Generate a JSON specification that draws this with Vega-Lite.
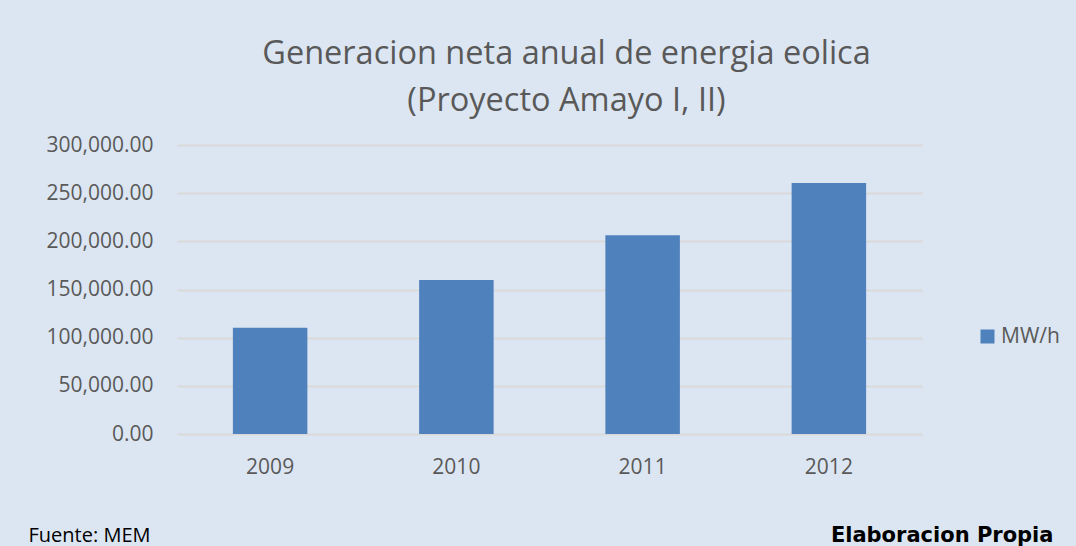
{
  "$schema": "https://vega.github.io/schema/vega-lite/v6.json",
  "autosize": {"type": "none"},
  "padding": {"left": 177, "top": 145, "right": 154, "bottom": 112},
  "width": 745,
  "height": 289,
  "background": "#dce6f2",
  "config": {
    "view": {"stroke": null},
    "font": "Open Sans"
  },
  "title": {
    "text": ["Generacion neta anual de energia eolica", "(Proyecto Amayo I, II)"],
    "font": "Open Sans",
    "fontSize": 32.5,
    "fontWeight": "normal",
    "color": "#595959",
    "lineHeight": 47,
    "anchor": "middle",
    "frame": "group",
    "dx": 17,
    "dy": 46,
    "baseline": "bottom",
    "offset": 30
  },
  "data": {
    "values": [
      {"year": "2009", "value": 110200, "serie": "MW/h"},
      {"year": "2010", "value": 159900, "serie": "MW/h"},
      {"year": "2011", "value": 206400, "serie": "MW/h"},
      {"year": "2012", "value": 260600, "serie": "MW/h"}
    ]
  },
  "mark": {"type": "bar", "color": "#4f81bd"},
  "encoding": {
    "x": {
      "field": "year",
      "type": "ordinal",
      "scale": {"paddingInner": 0.6, "paddingOuter": 0.3},
      "axis": {
        "title": "Fuente: MEM",
        "titleFont": "Open Sans",
        "titleFontSize": 20,
        "titleFontWeight": "normal",
        "titleColor": "#000000",
        "titleX": -149,
        "titleY": 107,
        "titleAlign": "left",
        "titleBaseline": "alphabetic",
        "titleAnchor": null,
        "labelAngle": 0,
        "labelFont": "Open Sans",
        "labelFontSize": 21,
        "labelColor": "#595959",
        "labelPadding": 22,
        "ticks": false,
        "domain": false,
        "grid": false
      }
    },
    "y": {
      "field": "value",
      "type": "quantitative",
      "scale": {"domain": [0, 300000], "nice": false},
      "axis": {
        "title": "Elaboracion Propia",
        "titleFont": "DejaVu Sans",
        "titleFontSize": 21,
        "titleFontWeight": "bold",
        "titleColor": "#000000",
        "titleAngle": 0,
        "titleX": 876,
        "titleY": 396,
        "titleAlign": "right",
        "titleBaseline": "alphabetic",
        "titleAnchor": null,
        "values": [0, 50000, 100000, 150000, 200000, 250000, 300000],
        "format": ",.2f",
        "labelFont": "Open Sans",
        "labelFontSize": 21,
        "labelColor": "#595959",
        "labelPadding": 24,
        "ticks": false,
        "domain": false,
        "grid": true,
        "gridColor": "#d9d9d9",
        "gridWidth": 2
      }
    },
    "color": {
      "field": "serie",
      "type": "nominal",
      "scale": {"range": ["#4f81bd"]},
      "legend": {
        "title": null,
        "orient": "none",
        "legendX": 800,
        "legendY": 181,
        "symbolType": "square",
        "symbolSize": 196,
        "symbolStrokeWidth": 0,
        "labelFont": "Open Sans",
        "labelFontSize": 21,
        "labelColor": "#595959",
        "labelOffset": 3
      }
    }
  }
}
